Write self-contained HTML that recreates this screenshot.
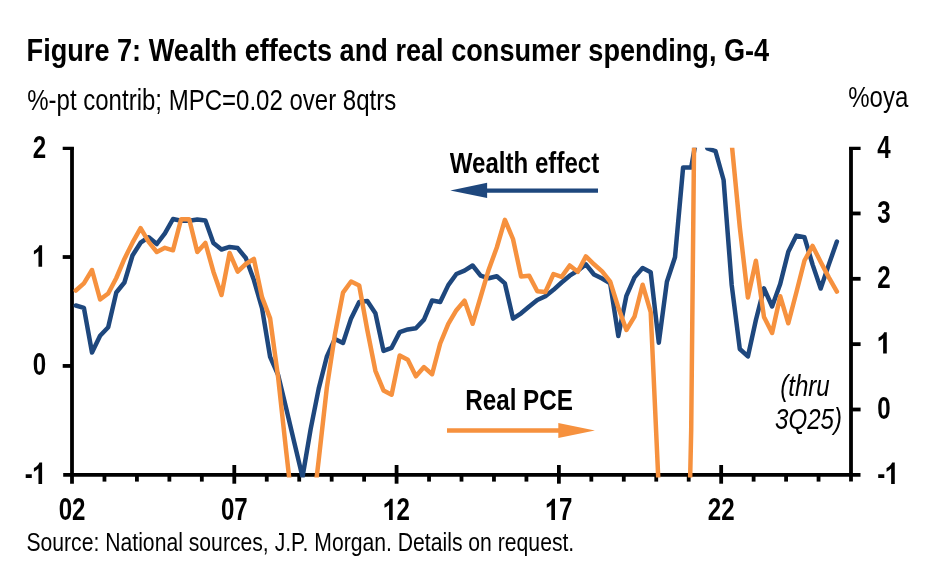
<!DOCTYPE html>
<html><head><meta charset="utf-8"><title>Figure 7</title>
<style>
html,body{margin:0;padding:0;background:#fff;}
body{width:940px;height:563px;overflow:hidden;font-family:"Liberation Sans",sans-serif;}
svg{display:block;}
svg text{font-family:"Liberation Sans",sans-serif;}
</style></head><body>
<svg width="940" height="563" viewBox="0 0 940 563">
<defs><clipPath id="plot"><rect x="60" y="147.8" width="800" height="329.7"/></clipPath></defs>
<rect width="940" height="563" fill="#fff"/>
<g fill="none" stroke="#000" stroke-width="3.8"><path d="M72.0,147.3 V483.7"/>
<path d="M851.0,147.3 V481.6"/>
<path d="M63.2,474.85 H860.5"/>
<path d="M62.7,257.02 H72.0"/>
<path d="M62.7,365.93 H72.0"/>
<path d="M851.0,213.45 H860.6"/>
<path d="M851.0,278.80 H860.6"/>
<path d="M851.0,344.15 H860.6"/>
<path d="M851.0,409.50 H860.6"/>
<path d="M104.46,474.85 V481.6"/>
<path d="M136.92,474.85 V481.6"/>
<path d="M169.38,474.85 V481.6"/>
<path d="M201.83,474.85 V481.6"/>
<path d="M234.29,465 V483.7"/>
<path d="M266.75,474.85 V481.6"/>
<path d="M299.21,474.85 V481.6"/>
<path d="M331.67,474.85 V481.6"/>
<path d="M364.12,474.85 V481.6"/>
<path d="M396.58,465 V483.7"/>
<path d="M429.04,474.85 V481.6"/>
<path d="M461.50,474.85 V481.6"/>
<path d="M493.96,474.85 V481.6"/>
<path d="M526.42,474.85 V481.6"/>
<path d="M558.88,465 V483.7"/>
<path d="M591.33,474.85 V481.6"/>
<path d="M623.79,474.85 V481.6"/>
<path d="M656.25,474.85 V481.6"/>
<path d="M688.71,474.85 V481.6"/>
<path d="M721.17,465 V483.7"/>
<path d="M753.62,474.85 V481.6"/>
<path d="M786.08,474.85 V481.6"/>
<path d="M818.54,474.85 V481.6"/></g>
<path d="M62.7,146.8H73.9V150.1H62.7Z M849.1,146.8H860.6V150.1H849.1Z" fill="#000"/>
<g clip-path="url(#plot)" fill="none" stroke-width="4.5" stroke-linejoin="round" stroke-linecap="round">
<polyline points="75.8,305.5 83.9,307.9 92.0,352.5 100.1,335.7 108.2,327.2 116.3,292.5 124.4,282.5 132.5,255.5 140.6,242.7 148.7,237.2 156.8,244.0 164.9,233.3 173.0,219.0 181.1,220.8 189.2,220.8 197.3,219.6 205.4,220.5 213.4,243.0 221.5,249.5 229.6,246.9 237.7,248.1 245.8,258.0 253.9,280.1 262.0,308.2 270.1,356.8 278.2,375.2 286.3,408.8 294.4,442.9 302.5,477.0 310.6,429.4 318.7,388.6 326.8,356.8 334.9,338.9 343.0,343.0 351.1,318.4 359.2,302.0 367.3,301.0 375.4,313.3 383.5,350.9 391.6,347.8 399.7,332.1 407.8,329.4 415.9,328.2 424.0,319.6 432.1,300.5 440.2,302.0 448.3,285.1 456.4,274.0 464.5,270.6 472.6,265.5 480.6,275.7 488.7,278.3 496.8,276.2 504.9,283.4 513.0,318.6 521.1,313.3 529.2,306.5 537.3,300.0 545.4,296.2 553.5,289.8 561.6,282.5 569.7,275.7 577.8,270.6 585.9,264.3 594.0,274.5 602.1,278.6 610.2,283.4 618.3,336.0 626.4,295.8 634.5,277.4 642.6,268.0 650.7,272.3 658.8,342.8 666.9,281.8 675.0,257.2 683.1,167.5 691.2,167.5 699.3,122.0 707.4,148.4 715.5,151.2 723.6,180.0 731.7,285.0 739.8,349.0 747.9,356.4 755.9,320.0 764.0,288.4 772.1,306.5 780.2,284.0 788.3,251.8 796.4,235.6 804.5,237.3 812.6,264.6 820.7,288.5 828.8,264.6 836.9,241.6" stroke="#1e477d"/>
<polyline points="75.8,290.5 83.9,283.4 92.0,270.0 100.1,299.5 108.2,293.5 116.3,278.0 124.4,258.9 132.5,242.7 140.6,228.2 148.7,241.8 156.8,252.0 164.9,247.8 173.0,250.3 181.1,219.2 189.2,219.2 197.3,252.0 205.4,243.0 213.4,271.7 221.5,295.0 229.6,253.0 237.7,271.6 245.8,264.0 253.9,258.9 262.0,297.1 270.1,318.4 278.2,378.0 286.3,452.3 294.4,523.6 302.5,560.0 310.6,529.0 318.7,460.0 326.8,388.0 334.9,334.6 343.0,292.6 351.1,281.5 359.2,285.5 367.3,330.0 375.4,370.8 383.5,390.4 391.6,394.7 399.7,355.5 407.8,359.7 415.9,376.3 424.0,367.1 432.1,374.2 440.2,343.5 448.3,323.9 456.4,310.2 464.5,300.6 472.6,323.8 480.6,297.0 488.7,269.7 496.8,247.5 504.9,219.8 513.0,239.0 521.1,276.6 529.2,275.7 537.3,291.2 545.4,292.0 553.5,274.0 561.6,276.9 569.7,265.5 577.8,271.8 585.9,256.4 594.0,264.3 602.1,271.4 610.2,281.7 618.3,307.5 626.4,330.0 634.5,316.7 642.6,284.7 650.7,312.2 658.8,490.0 666.9,600.0 675.0,700.0 683.1,800.0 691.2,430.0 699.3,-380.0 707.4,-200.0 715.5,0.0 723.6,59.0 731.7,143.4 739.8,227.2 747.9,297.5 755.9,260.7 764.0,317.0 772.1,333.0 780.2,296.2 788.3,323.3 796.4,292.2 804.5,260.5 812.6,245.9 820.7,262.0 828.8,277.4 836.9,291.6" stroke="#f6913e"/>
</g>
<path d="M486,190.6 H598" stroke="#1e477d" stroke-width="4.2"/>
<path d="M450.3,190.5 L487.1,182.8 V198 Z" fill="#1e477d"/>
<path d="M447,430.5 H559" stroke="#f6913e" stroke-width="4.3"/>
<path d="M594.9,430.5 L558.3,423.1 V438 Z" fill="#f6913e"/>
<g fill="#000" opacity="0.999"><text transform="translate(26.60,60.60) scale(0.848,1)" font-size="32" font-weight="bold">Figure 7: Wealth effects and real consumer spending, G-4</text>
<text transform="translate(27.20,110.00) scale(0.82,1)" font-size="29.3">%-pt contrib; MPC=0.02 over 8qtrs</text>
<text transform="translate(848.20,106.50) scale(0.82,1)" font-size="29.3">%oya</text>
<text transform="translate(26.40,550.60) scale(0.827,1)" font-size="25.6">Source: National sources, J.P. Morgan. Details on request.</text>
<text transform="translate(449.80,172.90) scale(0.795,1)" font-size="30.3" font-weight="bold">Wealth effect</text>
<text transform="translate(465.20,409.70) scale(0.8,1)" font-size="30.3" font-weight="bold">Real PCE</text>
<text transform="translate(32.64,158.01) scale(0.77,1)" font-size="31.3" font-weight="bold">2</text>
<path transform="translate(32.64,266.64) scale(0.01173,-0.01447)" d="M808,0H497V1056Q343,915 107,846V1101Q230,1140 375,1237Q530,1338 580,1472H808Z"/>
<text transform="translate(32.64,375.27) scale(0.77,1)" font-size="31.3" font-weight="bold">0</text>
<text transform="translate(24.64,483.90) scale(0.77,1)" font-size="31.3" font-weight="bold">-</text><path transform="translate(32.64,483.90) scale(0.01173,-0.01447)" d="M808,0H497V1056Q343,915 107,846V1101Q230,1140 375,1237Q530,1338 580,1472H808Z"/>
<text transform="translate(877.30,157.90) scale(0.77,1)" font-size="31.3" font-weight="bold">4</text>
<text transform="translate(877.30,223.10) scale(0.77,1)" font-size="31.3" font-weight="bold">3</text>
<text transform="translate(877.30,288.30) scale(0.77,1)" font-size="31.3" font-weight="bold">2</text>
<path transform="translate(877.30,353.50) scale(0.01173,-0.01447)" d="M808,0H497V1056Q343,915 107,846V1101Q230,1140 375,1237Q530,1338 580,1472H808Z"/>
<text transform="translate(877.30,418.70) scale(0.77,1)" font-size="31.3" font-weight="bold">0</text>
<text transform="translate(877.30,483.90) scale(0.77,1)" font-size="31.3" font-weight="bold">-</text><path transform="translate(885.30,483.90) scale(0.01173,-0.01447)" d="M808,0H497V1056Q343,915 107,846V1101Q230,1140 375,1237Q530,1338 580,1472H808Z"/>
<text transform="translate(58.64,520.00) scale(0.77,1)" font-size="31.3" font-weight="bold">02</text>
<text transform="translate(220.93,520.00) scale(0.77,1)" font-size="31.3" font-weight="bold">07</text>
<path transform="translate(383.22,520.00) scale(0.01173,-0.01447)" d="M808,0H497V1056Q343,915 107,846V1101Q230,1140 375,1237Q530,1338 580,1472H808Z"/><text transform="translate(396.58,520.00) scale(0.77,1)" font-size="31.3" font-weight="bold">2</text>
<path transform="translate(545.51,520.00) scale(0.01173,-0.01447)" d="M808,0H497V1056Q343,915 107,846V1101Q230,1140 375,1237Q530,1338 580,1472H808Z"/><text transform="translate(558.88,520.00) scale(0.77,1)" font-size="31.3" font-weight="bold">7</text>
<text transform="translate(707.81,520.00) scale(0.77,1)" font-size="31.3" font-weight="bold">22</text>
<text transform="translate(780.20,395.50) scale(0.823,1)" font-size="29.3" font-style="italic">(thru</text>
<text transform="translate(775.00,429.30) scale(0.823,1)" font-size="29.3" font-style="italic">3Q25)</text></g>
</svg>
</body></html>
